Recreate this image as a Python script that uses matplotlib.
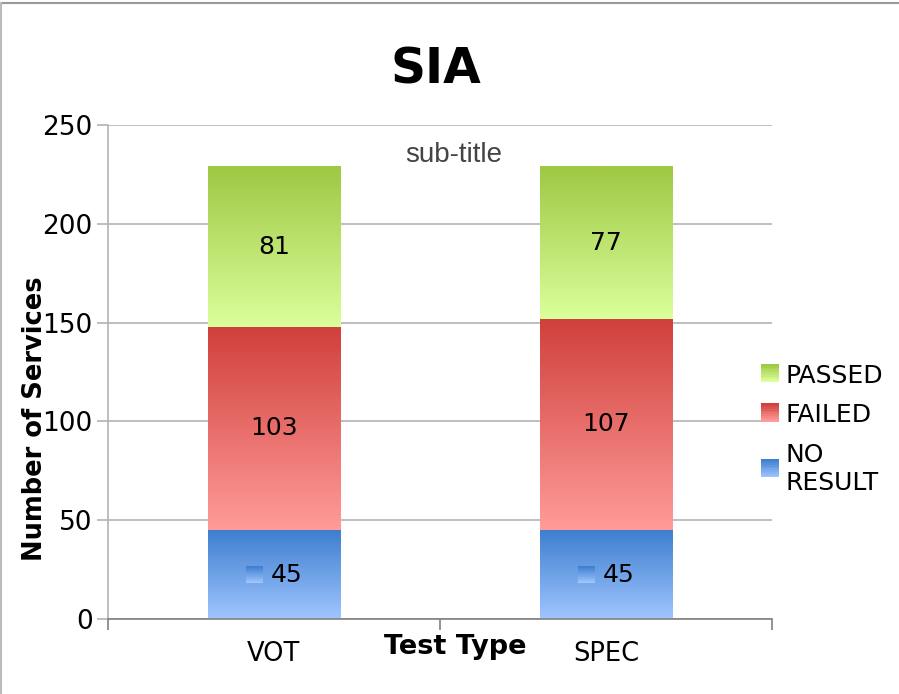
import matplotlib
matplotlib.use("Agg")
import matplotlib.pyplot as plt
import numpy as np
from matplotlib.patches import Rectangle
from matplotlib.legend_handler import HandlerBase
from matplotlib.lines import Line2D

categories = ["VOT", "SPEC"]
no_result = [45, 45]
failed = [103, 107]
passed = [81, 77]

series = [
    ("NO RESULT", no_result, "#3f7fcf", "#9fc5ff"),
    ("FAILED", failed, "#d0403c", "#ff9b98"),
    ("PASSED", passed, "#9fc844", "#daff9b"),
]

def grad(top, bottom, n=64):
    t = np.linspace(0, 1, n)[:, None]
    c1 = np.array(matplotlib.colors.to_rgb(top))
    c2 = np.array(matplotlib.colors.to_rgb(bottom))
    return (c1 * (1 - t) + c2 * t)[:, None, :].repeat(2, axis=1)

class GradHandler(HandlerBase):
    def __init__(self, top, bottom):
        super().__init__()
        self.top, self.bottom = top, bottom

    def create_artists(self, legend, orig, x0, y0, w, h, fontsize, trans):
        arts = []
        n = 10
        c1 = np.array(matplotlib.colors.to_rgb(self.top))
        c2 = np.array(matplotlib.colors.to_rgb(self.bottom))
        side = h * 0.95
        xs = x0 + w - side
        for i in range(n):
            t = i / (n - 1)
            c = c2 * (1 - t) + c1 * t
            r = Rectangle((xs, y0 + i * side / n), side, side / n + 0.2,
                          facecolor=c, edgecolor="none", transform=trans)
            arts.append(r)
        return arts

fig = plt.figure(figsize=(8.99, 6.94), dpi=100)
ax = fig.add_axes([0.1201, 0.1081, 0.7386, 0.7118])

centers = np.arange(len(categories)) + 0.5
width = 0.4
bottoms = np.zeros(len(categories))
for name, vals, top, bot in series:
    for i, c in enumerate(centers):
        ax.imshow(grad(top, bot), extent=(c - width / 2, c + width / 2, bottoms[i], bottoms[i] + vals[i]),
                  aspect="auto", zorder=2, interpolation="bilinear")
        ymid = bottoms[i] + vals[i] / 2
        if name == "NO RESULT":
            ax.imshow(grad(top, bot, 16), extent=(c - 0.085, c - 0.034, ymid - 4.3, ymid + 4.3),
                      aspect="auto", zorder=3)
            ax.text(c + 0.038, ymid, str(vals[i]), ha="center", va="center", fontsize=18, zorder=4)
        else:
            ax.text(c, ymid, str(vals[i]), ha="center", va="center", fontsize=18, zorder=4)
    bottoms += np.array(vals)

ax.set_xlim(0, 2)
ax.set_ylim(0, 250)
ax.set_yticks(np.arange(0, 251, 50))
ax.set_xticks([0, 1, 2])
ax.set_xticklabels([])
ax.set_xticks(centers, minor=True)
ax.set_xticklabels(categories, minor=True, fontsize=18.5)
ax.tick_params(axis="x", which="minor", length=0, pad=16)
ax.tick_params(axis="x", which="major", length=8, color="#808080", width=1.2)
ax.tick_params(axis="y", length=8, color="#b3b3b3", width=1.2, labelsize=19, pad=3)
ax.yaxis.grid(True, color="#b3b3b3", lw=1.2, zorder=0)
ax.set_axisbelow(True)
for s in ["top", "right"]:
    ax.spines[s].set_visible(False)
ax.spines["left"].set_color("#b3b3b3")
ax.spines["left"].set_linewidth(1.2)
ax.spines["bottom"].set_color("#808080")
ax.spines["bottom"].set_linewidth(1.2)

ax.text(-0.11, 0.405, "Number of Services", transform=ax.transAxes, rotation=90,
        ha="center", va="center", fontsize=18.5, fontweight="bold")
ax.text(0.523, -0.057, "Test Type", transform=ax.transAxes, ha="center", va="center",
        fontsize=19.5, fontweight="bold")
fig.text(0.485, 0.9, "SIA", ha="center", va="center", fontsize=35, fontweight="bold")
ax.text(0.52, 0.94, "sub-title", transform=ax.transAxes, ha="center", va="center",
        fontsize=20, color="#444444", family="Liberation Sans")

handles = [Rectangle((0, 0), 1, 1) for _ in range(3)]
labels = ["PASSED", "FAILED", "NO\nRESULT"]
hmap = {handles[0]: GradHandler(series[2][2], series[2][3]),
        handles[1]: GradHandler(series[1][2], series[1][3]),
        handles[2]: GradHandler(series[0][2], series[0][3])}
leg = fig.legend(handles, labels, handler_map=hmap, loc="upper left",
                 bbox_to_anchor=(0.819, 0.508), frameon=False, fontsize=18,
                 handlelength=0.8, handleheight=0.8, handletextpad=0.25, labelspacing=0.62)

fig.add_artist(Line2D([0, 1], [0.996, 0.996], color="#999999", lw=1.5, transform=fig.transFigure))
fig.add_artist(Line2D([0.001, 0.001], [0, 0.996], color="#bbbbbb", lw=1.5, transform=fig.transFigure))

fig.savefig("out.png", dpi=100)
